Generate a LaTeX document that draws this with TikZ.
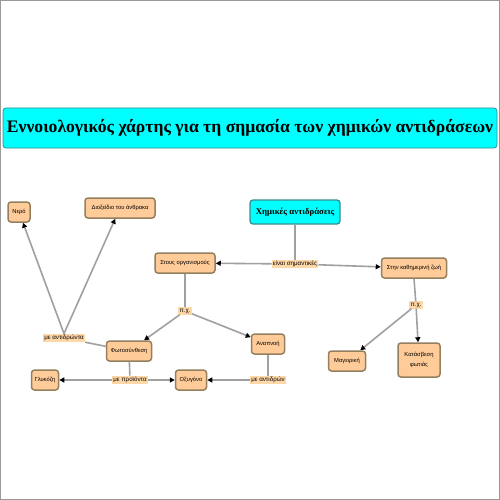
\documentclass[tikz,border=0pt]{standalone}
\usepackage{fontspec}
\setmainfont{Liberation Serif}
\newfontfamily\boxfont{Liberation Sans}
\usetikzlibrary{arrows.meta}
\definecolor{boxfill}{HTML}{FFCC99}
\definecolor{boxline}{HTML}{94805F}
\definecolor{lblfill}{HTML}{FFD8A8}
\definecolor{cyanfill}{HTML}{00FFFF}
\definecolor{cyanline}{HTML}{3C8C8C}
\definecolor{conn}{HTML}{A0A0A0}
\begin{document}
\begin{tikzpicture}[x=1pt,y=-1pt,
  concept/.style={draw=boxline,line width=1.5pt,fill=boxfill,rounded corners=3pt,
    font=\boxfont\fontsize{5.8}{7}\selectfont,inner sep=2.5pt,minimum height=20pt,align=center},
  lbl/.style={fill=lblfill,font=\boxfont\fontsize{6.2}{7}\selectfont,inner sep=1.2pt},
  conline/.style={draw=conn,line width=1.6pt},
  arr/.style={conline,-{Triangle[length=5pt,width=5pt,fill=black,color=black]}}]
\useasboundingbox (0,0) rectangle (500,500);
\draw[gray!80,line width=0.8pt] (0.5,0.5) rectangle (499.5,499.5);
% title
\node[draw=cyanline,line width=0.8pt,fill=cyanfill,rounded corners=3pt,
  minimum width=494pt,minimum height=40pt,inner sep=0pt,
  font=\bfseries\fontsize{17.6}{20}\selectfont] (title) at (250,128)
  {Εννοιολογικός χάρτης για τη σημασία των χημικών αντιδράσεων};
% nodes
\node[draw=cyanline,line width=1.3pt,fill=cyanfill,rounded corners=3pt,
  minimum width=90pt,minimum height=24pt,inner sep=2pt,
  font=\bfseries\fontsize{8.8}{10}\selectfont] (chem) at (295,212) {Χημικές αντιδράσεις};
\node[lbl] (imp) at (295,264) {είναι σημαντικές};
\node[concept,minimum width=60pt] (org) at (185,263) {Στους οργανισμούς};
\node[concept,minimum width=65pt] (daily) at (414,268) {Στην καθημερινή ζωή};
\node[concept,minimum width=22pt] (water) at (19,212) {Νερό};
\node[concept,minimum width=70pt] (co2) at (120,208) {Διοξείδιο του άνθρακα};
\node[lbl] (eg1) at (185,311) {π.χ.};
\node[lbl] (eg2) at (416,305) {π.χ.};
\node[lbl] (react1) at (64,338) {με αντιδρώντα};
\node[concept,minimum width=45pt] (photo) at (129,351) {Φωτοσύνθεση};
\node[concept,minimum width=33pt] (resp) at (268,344) {Αναπνοή};
\node[concept,minimum width=27pt] (gluc) at (45,380) {Γλυκόζη};
\node[lbl] (prod) at (130,380) {με προϊόντα};
\node[concept,minimum width=31pt] (oxy) at (191,380) {Οξυγόνο};
\node[lbl] (react2) at (268,380) {με αντιδρών};
\node[concept,minimum width=37pt] (cook) at (347,361) {Μαγειρική};
\node[concept,minimum width=42pt,minimum height=34pt] (fire) at (419,360) {Κατάσβεση\\[3pt]φωτιάς};
% connectors
\draw[conline] (chem) -- (imp);
\draw[arr] (imp) -- (org);
\draw[arr] (imp) -- (daily);
\draw[conline] (org) -- (eg1);
\draw[arr] (eg1) -- (photo);
\draw[arr] (eg1) -- (resp);
\draw[conline] (daily.south) -- (eg2);
\draw[arr] (eg2) -- (cook);
\draw[arr] (eg2) -- (fire);
\draw[conline] (photo) -- (react1);
\draw[arr] (react1.north) -- (water);
\draw[arr] (react1.north) -- (co2);
\draw[conline] (photo) -- (prod);
\draw[arr] (prod) -- (gluc);
\draw[arr] (prod) -- (oxy);
\draw[conline] (resp) -- (react2);
\draw[arr] (react2) -- (oxy);
\end{tikzpicture}
\end{document}
